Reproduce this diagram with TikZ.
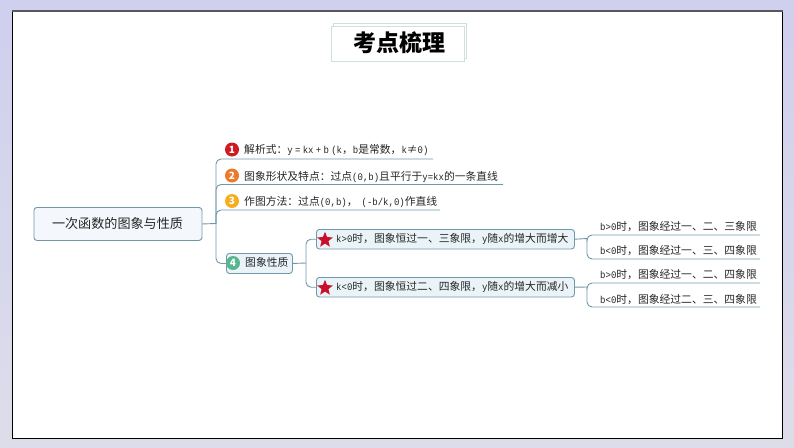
\documentclass[tikz,border=0pt]{standalone}
\usepackage{fontspec}
\setmainfont{Noto Sans CJK SC}
\newfontfamily\latmono{Liberation Mono}[Scale=0.93,FakeStretch=0.896]
\newcommand{\lat}[1]{{\latmono\spaceskip=2.3pt #1}}
\usetikzlibrary{shapes.geometric}
\definecolor{bgtop}{HTML}{CFCFEE}
\definecolor{bgbot}{HTML}{DDDDEA}
\definecolor{linec}{HTML}{6F98AA}
\definecolor{boxfill}{HTML}{EAF4F8}
\definecolor{rootfill}{HTML}{F4F8FC}
\definecolor{titleline}{HTML}{CFE0DE}
\definecolor{txt}{HTML}{262626}
\definecolor{dotred}{HTML}{CF1A22}
\definecolor{dotorange}{HTML}{EC7A2B}
\definecolor{dotyellow}{HTML}{F6AE1E}
\definecolor{dotgreen}{HTML}{58B78F}
\definecolor{starred}{HTML}{C9102A}
\tikzset{
  conn/.style={draw=linec,line width=0.9pt,rounded corners=5pt},
  lbl/.style={anchor=west,inner sep=0pt,text=txt,font=\fontsize{10.8pt}{12pt}\selectfont},
  topicbox/.style={draw=linec,line width=0.9pt,fill=boxfill,rounded corners=3pt,inner sep=0pt,anchor=north west},
  numdot/.style={circle,inner sep=0pt,minimum size=14pt,text=white,font=\fontsize{10pt}{10pt}\selectfont\bfseries},
  redstar/.style={star,star points=5,star point ratio=2.3,fill=starred,inner sep=0pt,minimum size=16.5pt},
  titlebox/.style={draw=titleline,line width=0.8pt,fill=white,inner sep=0pt,anchor=north west,minimum width=133pt,minimum height=35pt}
}
\begin{document}
\begin{tikzpicture}[x=1pt,y=-1pt]
\useasboundingbox (0,0) rectangle (794,447);
\shade[top color=bgtop,bottom color=bgbot] (0,0) rectangle (794,447);
\node[draw=black,line width=1pt,fill=white,inner sep=0pt,anchor=north west,minimum width=770pt,minimum height=427pt] (frame) at (12,11) {};
\draw[line width=1.4pt,draw=black!65] (frame.north west) -- (frame.north east);
% title
\node[titlebox] (titleback) at (333,23) {};
\node[titlebox] (titlefront) at (331,26) {};
\node[inner sep=0pt,font=\fontsize{23pt}{25pt}\selectfont\bfseries,text=black] (title) at (399,43) {考点梳理};
% root
\node[draw=linec,line width=0.9pt,fill=rootfill,rounded corners=3pt,inner sep=0pt,anchor=north west,minimum width=168pt,minimum height=33pt] (root) at (33.5,207) {};
\node[inner sep=0pt,text=txt,font=\fontsize{13.1pt}{16pt}\selectfont] (roottext) at (117.5,223.5) {一次函数的图象与性质};
% junctions
\coordinate (j0) at (216,223.5);
\coordinate (a1s) at (226,159);\coordinate (a1e) at (433,159);
\coordinate (a2s) at (226,184.5);\coordinate (a2e) at (503,184.5);
\coordinate (a3s) at (226,210);\coordinate (a3e) at (440,210);
% topic 4
\node[topicbox,minimum width=66pt,minimum height=20pt] (t4) at (226,253) {};
\node[lbl] (t4text) at (245,262.5) {图象性质};
\draw[conn] (root.east) -- (j0);
\draw[conn] (j0) |- (a1s) -- (a1e);
\draw[conn] (j0) |- (a2s) -- (a2e);
\draw[conn] (j0) |- (a3s) -- (a3e);
\draw[conn] (j0) |- (t4.west);
% labels 1-3
\node[numdot,fill=dotred] (n1) at (232,149.5) {1};
\node[lbl] (l1) at (244,150) {解析式：\lat{y = kx + b (k}，\lat{b}是常数，\lat{k}≠\lat{0)}};
\node[numdot,fill=dotorange] (n2) at (232,175.5) {2};
\node[lbl] (l2) at (244,176.5) {图象形状及特点：过点\lat{(0,b)}且平行于\lat{y=kx}的一条直线};
\node[numdot,fill=dotyellow] (n3) at (232,201) {3};
\node[lbl] (l3) at (244,202) {作图方法：过点\lat{(0,b)}，\kern4pt\lat{(-b/k,0)}作直线};
\node[numdot,fill=dotgreen] (n4) at (233,263) {4};
% sub-topics
\node[topicbox,minimum width=258pt,minimum height=19.5pt] (b1) at (316,229) {};
\node[topicbox,minimum width=258pt,minimum height=19.5pt] (b2) at (316,277) {};
\coordinate (j1) at (306,263);
\draw[conn] (t4.east) -- (j1);
\draw[conn] (j1) |- (b1.west);
\draw[conn] (j1) |- (b2.west);
\node[redstar] (s1) at (325,240) {};
\node[redstar] (s2) at (325,288) {};
\node[lbl] (b1text) at (336,239) {\lat{k>0}时，图象恒过一、三象限，\lat{y}随\lat{x}的增大而增大};
\node[lbl] (b2text) at (336,287) {\lat{k<0}时，图象恒过二、四象限，\lat{y}随\lat{x}的增大而减小};
% right branches
\coordinate (j2) at (587,238.5);
\coordinate (c1s) at (597,235);\coordinate (c1e) at (760,235);
\coordinate (c2s) at (597,259);\coordinate (c2e) at (760,259);
\coordinate (j3) at (587,287);
\coordinate (c3s) at (597,283);\coordinate (c3e) at (760,283);
\coordinate (c4s) at (597,307);\coordinate (c4e) at (760,307);
\draw[conn] (b1.east) -- (j2);
\draw[conn] (j2) |- (c1s) -- (c1e);
\draw[conn] (j2) |- (c2s) -- (c2e);
\draw[conn] (b2.east) -- (j3);
\draw[conn] (j3) |- (c3s) -- (c3e);
\draw[conn] (j3) |- (c4s) -- (c4e);
\node[lbl] (c1) at (600,227) {\lat{b>0}时，图象经过一、二、三象限};
\node[lbl] (c2) at (600,251) {\lat{b<0}时，图象经过一、三、四象限};
\node[lbl] (c3) at (600,274.5) {\lat{b>0}时，图象经过一、二、四象限};
\node[lbl] (c4) at (600,299.5) {\lat{b<0}时，图象经过二、三、四象限};
\end{tikzpicture}
\end{document}
